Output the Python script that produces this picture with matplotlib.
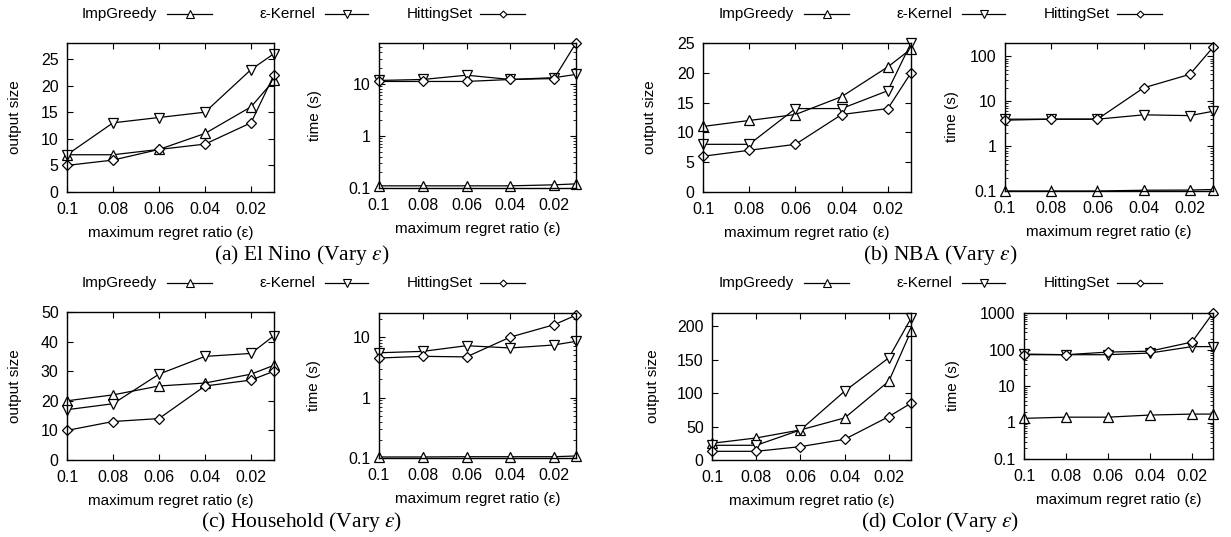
import matplotlib
matplotlib.use("Agg")
import matplotlib.pyplot as plt
from matplotlib.lines import Line2D
from matplotlib.transforms import blended_transform_factory
import numpy as np

plt.rcParams['font.family'] = ['Liberation Sans', 'DejaVu Sans']
plt.rcParams['mathtext.fontset'] = 'stix'

# ---------------- data ----------------
eps = [0.1, 0.08, 0.06, 0.04, 0.02, 0.01]
xticks = [0.1, 0.08, 0.06, 0.04, 0.02]
xticklabels = ["0.1", "0.08", "0.06", "0.04", "0.02"]
series_names = ["ImpGreedy", "\u03b5-Kernel", "HittingSet"]

# El Nino
elnino_size_imp = [7, 7, 8, 11, 16, 21]
elnino_size_ker = [7, 13, 14, 15, 23, 26]
elnino_size_hit = [5, 6, 8, 9, 13, 22]
elnino_time_imp = [0.11, 0.11, 0.11, 0.11, 0.115, 0.12]
elnino_time_ker = [11.5, 12, 14.5, 12, 13, 15]
elnino_time_hit = [11, 11, 11, 12, 12.5, 60]

# NBA
nba_size_imp = [11, 12, 13, 16, 21, 24]
nba_size_ker = [8, 8, 14, 14, 17, 25]
nba_size_hit = [6, 7, 8, 13, 14, 20]
nba_time_imp = [0.1, 0.1, 0.1, 0.104, 0.105, 0.108]
nba_time_ker = [4, 4, 4, 5, 4.8, 6]
nba_time_hit = [3.8, 4, 4, 20, 40, 160]

# Household
house_size_imp = [20, 22, 25, 26, 29, 32]
house_size_ker = [17, 19, 29, 35, 36, 42]
house_size_hit = [10, 13, 14, 25, 27, 30]
house_time_imp = [0.104, 0.104, 0.105, 0.105, 0.105, 0.108]
house_time_ker = [5.5, 5.8, 7.2, 6.6, 7.4, 8.5]
house_time_hit = [4.5, 4.8, 4.7, 10, 16, 23]

# Color
color_size_imp = [25, 33, 45, 63, 118, 193]
color_size_ker = [22, 22, 45, 103, 153, 212]
color_size_hit = [13, 13, 20, 31, 65, 85]
color_time_imp = [1.3, 1.4, 1.4, 1.6, 1.7, 1.7]
color_time_ker = [75, 72, 72, 80, 120, 120]
color_time_hit = [72, 72, 85, 90, 160, 1000]

captions = ["(a) El Nino (Vary $\\varepsilon$)", "(b) NBA (Vary $\\varepsilon$)",
            "(c) Household (Vary $\\varepsilon$)", "(d) Color (Vary $\\varepsilon$)"]

markers = ['^', 'v', 'D']
msizes = [7.5, 7.5, 5.5]

W, H = 1231, 537
fig = plt.figure(figsize=(W / 100, H / 100), dpi=100)


def add_ax(x0, x1, y0, y1):
    return fig.add_axes([x0 / W, 1 - y1 / H, (x1 - x0) / W, (y1 - y0) / H])


TFS = 11.5   # tick labels
LFS = 11     # axis labels / legend


def style(ax, ylabel, ylab_x):
    ax.set_xlim(0.1, 0.01)
    ax.set_xticks(xticks)
    ax.set_xticklabels(xticklabels)
    ax.tick_params(direction='in', top=True, right=True, labelsize=TFS,
                   length=4.5, width=0.8)
    ax.tick_params(axis='x', pad=7)
    ax.tick_params(axis='y', pad=6)
    ax.tick_params(which='minor', direction='in', top=False, right=True, length=2.2, width=0.6)
    ax.set_xlabel("maximum regret ratio (\u03b5)", fontsize=LFS, labelpad=7)
    ax.set_ylabel(ylabel, fontsize=LFS)
    ax.yaxis.set_label_coords(ylab_x / W, 0.5,
                              transform=blended_transform_factory(fig.transFigure, ax.transAxes))
    ax.yaxis.label.set_va('center')
    for s in ax.spines.values():
        s.set_linewidth(1.0)


def plot_series(ax, ys):
    for y, m, ms in zip(ys, markers, msizes):
        ax.plot(eps, y, color='black', lw=0.9, marker=m, ms=ms,
                mfc='white', mec='black', mew=0.9, clip_on=False)


panels = [
    ((67, 274, 43, 192), (379, 576, 43, 188), (15, 315),
     (elnino_size_imp, elnino_size_ker, elnino_size_hit),
     (elnino_time_imp, elnino_time_ker, elnino_time_hit),
     (0, 28), [0, 5, 10, 15, 20, 25], (0.1, 60), [0.1, 1, 10]),
    ((703, 911, 43, 192), (1005, 1213, 43, 191), (650, 952),
     (nba_size_imp, nba_size_ker, nba_size_hit),
     (nba_time_imp, nba_time_ker, nba_time_hit),
     (0, 25), [0, 5, 10, 15, 20, 25], (0.1, 200), [0.1, 1, 10, 100]),
    ((67, 274, 312, 460), (379, 576, 313, 458), (15, 314),
     (house_size_imp, house_size_ker, house_size_hit),
     (house_time_imp, house_time_ker, house_time_hit),
     (0, 50), [0, 10, 20, 30, 40, 50], (0.1, 25), [0.1, 1, 10]),
    ((712, 911, 313, 460), (1024, 1213, 313, 459), (653, 953),
     (color_size_imp, color_size_ker, color_size_hit),
     (color_time_imp, color_time_ker, color_time_hit),
     (0, 220), [0, 50, 100, 150, 200], (0.1, 1000), [0.1, 1, 10, 100, 1000]),
]

for (r1, r2, ylx, sizes, times, ylim1, yt1, ylim2, yt2) in panels:
    ax1 = add_ax(*r1)
    plot_series(ax1, sizes)
    ax1.set_ylim(*ylim1)
    ax1.set_yticks(yt1)
    style(ax1, "output size", ylx[0])

    ax2 = add_ax(*r2)
    plot_series(ax2, times)
    ax2.set_yscale('log')
    ax2.set_ylim(*ylim2)
    ax2.set_yticks(yt2)
    ax2.set_yticklabels([("%g" % v) for v in yt2])
    style(ax2, "time (s)", ylx[1])

# legends (text right-aligned, then sample line with marker)
leg_text_right = [157, 315, 473]
leg_line = [(167, 212), (325, 368), (480, 525)]
for xoff, ycen in [(0, 14), (637, 14), (0, 283), (637, 283)]:
    for name, tr, (l0, l1), m, ms in zip(series_names, leg_text_right, leg_line, markers, msizes):
        fig.text((tr + xoff) / W, 1 - ycen / H, name, ha='right', va='center', fontsize=LFS)
        fig.add_artist(Line2D([(l0 + xoff) / W, (l1 + xoff) / W], [1 - ycen / H] * 2,
                              color='black', lw=0.9, transform=fig.transFigure))
        fig.add_artist(Line2D([((l0 + l1) / 2 + xoff) / W], [1 - ycen / H], marker=m,
                              ms=ms - 2, mfc='white', mec='black', mew=0.8, ls='none',
                              transform=fig.transFigure))

cap_pos = [(302, 255), (940, 255), (302, 522), (940, 522)]
for cap, (cx, cy) in zip(captions, cap_pos):
    fig.text(cx / W, 1 - cy / H, cap, ha='center', va='center', fontsize=15.5,
             family='Liberation Serif')

fig.savefig("out.png", dpi=100)
